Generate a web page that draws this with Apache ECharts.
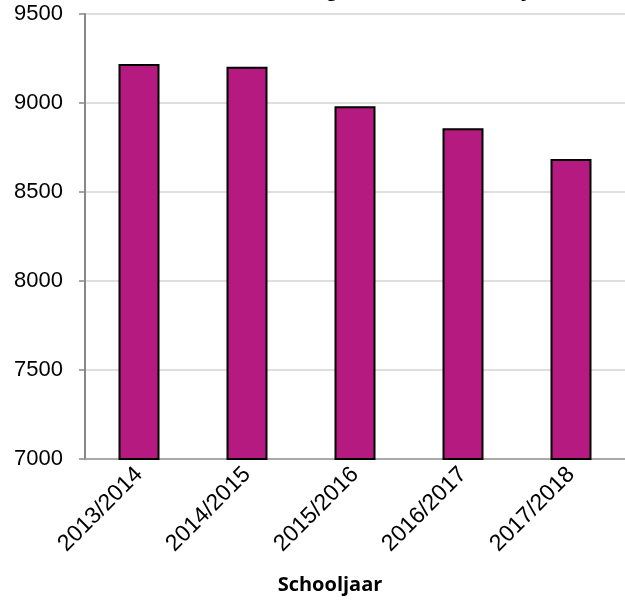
<!DOCTYPE html>
<html>
<head>
<meta charset="utf-8">
<script src="https://cdn.jsdelivr.net/npm/echarts@6/dist/echarts.min.js"></script>
<style>
  html, body { margin: 0; padding: 0; background: #fff; }
  #chart { width: 625px; height: 600px; }
</style>
</head>
<body>
<div id="chart"></div>
<script>
// schooljaren en aantallen
var schooljaren = ['2013/2014', '2014/2015', '2015/2016', '2016/2017', '2017/2018'];
var aantallen = [9219, 9204, 8982, 8858, 8685];
var yTicks = [7000, 7500, 8000, 8500, 9000, 9500];

var chart = echarts.init(document.getElementById('chart'));

chart.setOption({
  animation: false,
  // titel valt grotendeels buiten beeld, zoals in het origineel
  title: {
    text: 'Aantal leerlingen in het schooljaar',
    left: 174,
    top: -23,
    padding: 0,
    textStyle: {
      fontFamily: 'Liberation Sans, Arial, sans-serif',
      fontSize: 24,
      fontWeight: 'bold',
      color: '#000'
    }
  },
  grid: {
    left: 85,
    right: -4,
    top: 14,
    bottom: 141
  },
  xAxis: {
    type: 'category',
    data: schooljaren,
    name: 'Schooljaar',
    nameLocation: 'middle',
    nameGap: 116,
    nameTextStyle: {
      fontFamily: 'Open Sans, sans-serif',
      fontSize: 20,
      fontWeight: 'bold',
      color: '#000',
      padding: [0, 50, 0, 0]
    },
    axisLine: { lineStyle: { color: '#999', width: 1.5 } },
    axisTick: { show: false },
    axisLabel: {
      rotate: 45,
      margin: 12,
      fontFamily: 'Liberation Sans, Arial, sans-serif',
      fontSize: 23,
      color: '#000'
    }
  },
  yAxis: {
    type: 'value',
    min: yTicks[0],
    max: yTicks[yTicks.length - 1],
    interval: 500,
    axisLine: { show: true, lineStyle: { color: '#888', width: 2 } },
    axisTick: { show: true, length: 6, lineStyle: { color: '#888', width: 1.5 } },
    axisLabel: {
      margin: 22,
      fontFamily: 'Liberation Sans, Arial, sans-serif',
      fontSize: 22,
      color: '#000',
      formatter: function (v) { return String(v); }
    },
    splitLine: { lineStyle: { color: '#d4d4d4', width: 1.5 } }
  },
  series: [{
    type: 'bar',
    data: aantallen,
    barWidth: 41,
    itemStyle: {
      color: '#b41a7f',
      borderColor: '#000',
      borderWidth: 2
    }
  }]
});
</script>
</body>
</html>
